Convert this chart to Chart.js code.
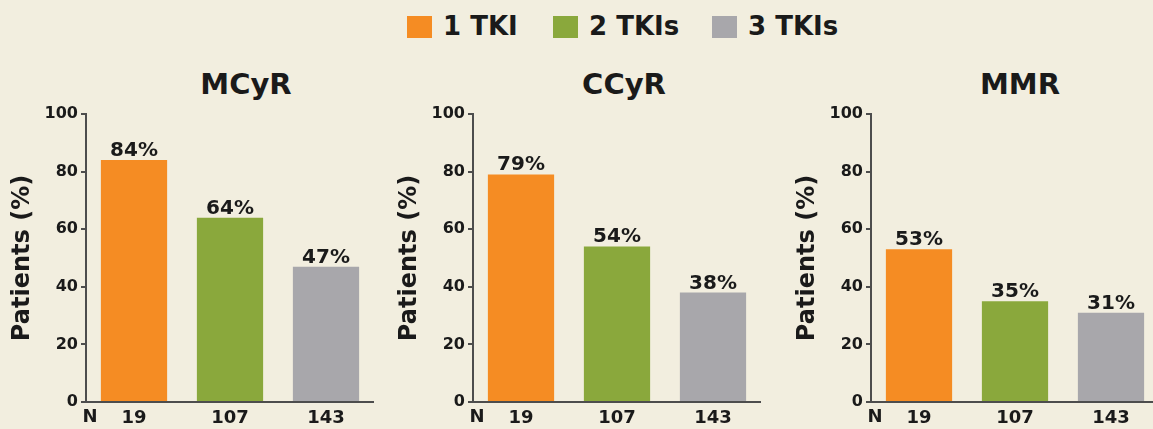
<!DOCTYPE html>
<html>
<head>
<meta charset="utf-8">
<script src="https://cdn.jsdelivr.net/npm/chart.js@4"></script>
<style>
  html, body {
    margin: 0;
    padding: 0;
    width: 1153px;
    height: 429px;
    overflow: hidden;
    background: #f2eedf;
    font-family: "DejaVu Sans", Verdana, sans-serif;
    color: #1a1a1a;
  }
  .panel {
    position: absolute;
    top: 0;
    width: 374px;
    height: 429px;
  }
  .title {
    position: absolute;
    top: 66px;
    width: 200px;
    margin-left: -100px;
    text-align: center;
    font-weight: bold;
    font-size: 29px;
    line-height: 36px;
  }
  .legend-item {
    position: absolute;
    top: 11px;
    font-weight: bold;
    font-size: 26px;
    line-height: 30px;
    white-space: nowrap;
  }
  .legend-item span {
    display: inline-block;
    width: 25px;
    height: 22px;
    vertical-align: -3px;
    margin-right: 11px;
  }
</style>
</head>
<body>
<div id="legend"></div>
<div id="titles"></div>
<div class="panel" style="left:0px"><canvas id="mcyrChart"></canvas></div>
<div class="panel" style="left:387px"><canvas id="ccyrChart"></canvas></div>
<div class="panel" style="left:785px"><canvas id="mmrChart"></canvas></div>

<script>
// =============================
// Data
// =============================
const groups = ["1 TKI", "2 TKIs", "3 TKIs"];
const nLabels = ["19", "107", "143"];
const panelTitles = ["MCyR", "CCyR", "MMR"];
const mcyr = [84, 64, 47];
const ccyr = [79, 54, 38];
const mmr = [53, 35, 31];
const barColors = ["#f58c23", "#8aa83c", "#a8a7ab"];

const FONT = "'DejaVu Sans', Verdana, sans-serif";
const AXIS_COLOR = "#4d4d4d";
const TEXT_COLOR = "#1a1a1a";

// =============================
// Legend + titles (html)
// =============================
const legendX = [407, 553, 712];
const legend = document.getElementById("legend");
groups.forEach((g, i) => {
  legend.innerHTML += `
    <div class="legend-item" style="left:${legendX[i]}px">
      <span style="background:${barColors[i]}"></span>${g}
    </div>`;
});

const titleX = [246, 624, 1020];
const titles = document.getElementById("titles");
panelTitles.forEach((t, i) => {
  titles.innerHTML += `<div class="title" style="left:${titleX[i]}px">${t}</div>`;
});

// =============================
// Plugin: % labels above bars, "N" under axis
// =============================
const barLabels = {
  id: "barLabels",
  afterDatasetsDraw(chart) {
    const ctx = chart.ctx;
    const values = chart.data.datasets[0].data;
    ctx.save();
    ctx.fillStyle = TEXT_COLOR;
    ctx.font = "bold 20px " + FONT;
    ctx.textAlign = "center";
    ctx.textBaseline = "alphabetic";
    chart.getDatasetMeta(0).data.forEach((bar, i) => {
      ctx.fillText(values[i] + "%", bar.x, bar.y - 4);
    });
    // N label
    const xScale = chart.scales.x;
    ctx.font = "bold 18px " + FONT;
    ctx.textBaseline = "top";
    ctx.fillText("N", chart.chartArea.left + 4, xScale.top + 6);
    ctx.restore();
  },
};

// =============================
// Charts
// =============================
function makeChart(id, values) {
  const ctx = document.getElementById(id).getContext("2d");
  return new Chart(ctx, {
    type: "bar",
    data: {
      labels: nLabels,
      datasets: [
        {
          label: "Patients",
          data: values,
          backgroundColor: barColors,
          borderWidth: 0,
          categoryPercentage: 1,
          barPercentage: 0.69,
        },
      ],
    },
    options: {
      responsive: true,
      maintainAspectRatio: false,
      animation: false,
      layout: { padding: { top: 114, right: 0, bottom: 0, left: 0 } },
      plugins: {
        legend: { display: false },
        tooltip: { enabled: false },
      },
      scales: {
        y: {
          min: 0,
          max: 100,
          ticks: {
            stepSize: 20,
            color: TEXT_COLOR,
            font: { family: FONT, size: 16, weight: "bold" },
            padding: 3,
          },
          grid: {
            drawOnChartArea: false,
            drawTicks: true,
            tickLength: 5,
            color: AXIS_COLOR,
            lineWidth: 2,
          },
          border: { display: true, color: AXIS_COLOR, width: 2 },
          title: {
            display: true,
            text: "Patients (%)",
            color: TEXT_COLOR,
            font: { family: FONT, size: 24, weight: "bold" },
            padding: { top: 8, bottom: 0 },
          },
          afterFit(scale) {
            scale.width = 86;
          },
        },
        x: {
          ticks: {
            color: TEXT_COLOR,
            font: { family: FONT, size: 18, weight: "bold" },
            padding: 6,
            maxRotation: 0,
          },
          grid: { display: false, drawTicks: false },
          border: { display: true, color: AXIS_COLOR, width: 2 },
          afterFit(scale) {
            scale.height = 27;
          },
        },
      },
    },
    plugins: [barLabels],
  });
}

makeChart("mcyrChart", mcyr);
makeChart("ccyrChart", ccyr);
makeChart("mmrChart", mmr);
</script>
</body>
</html>
